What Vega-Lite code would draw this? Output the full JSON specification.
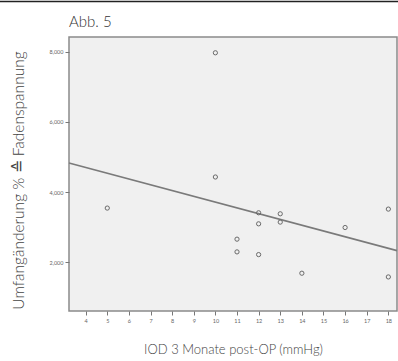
{
  "$schema": "https://vega.github.io/schema/vega-lite/v6.json",
  "autosize": "none",
  "width": 328,
  "height": 274,
  "padding": {"left": 69, "top": 37, "right": 1, "bottom": 50},
  "background": "white",
  "config": {
    "font": "Lato",
    "view": {"fill": "#f0f0f0", "stroke": "#8a8a8a", "strokeWidth": 1.5},
    "axis": {"grid": false, "domain": false, "tickColor": "#777", "tickSize": 4, "labelColor": "#666", "labelFontSize": 5.5, "labelOverlap": false, "titleColor": "#444", "titleFontWeight": 300, "titleFontSize": 13.5}
  },
  "title": {"text": "Abb. 5", "anchor": "start", "frame": "group", "fontSize": 15, "fontWeight": 300, "color": "#333", "offset": -41, "baseline": "alphabetic", "font": "Lato"},
  "datasets": {
    "pts": [
      {"iod": 5, "umf": 3543},
      {"iod": 10, "umf": 7970},
      {"iod": 10, "umf": 4429},
      {"iod": 11, "umf": 2657},
      {"iod": 11, "umf": 2294},
      {"iod": 12, "umf": 3409},
      {"iod": 12, "umf": 3094},
      {"iod": 12, "umf": 2217},
      {"iod": 13, "umf": 3380},
      {"iod": 13, "umf": 3143},
      {"iod": 14, "umf": 1686},
      {"iod": 16, "umf": 2989},
      {"iod": 18, "umf": 3514},
      {"iod": 18, "umf": 1580}
    ],
    "fit": [
      {"iod": 3.23, "umf": 4829},
      {"iod": 18.4, "umf": 2330}
    ],
    "sep": [
      {"iod": 0.03, "iod2": 18.46, "umf": 9434}
    ]
  },
  "encoding": {
    "x": {"field": "iod", "type": "quantitative", "scale": {"domain": [3.23, 18.4], "nice": false, "zero": false},
          "axis": {"values": [4,5,6,7,8,9,10,11,12,13,14,15,16,17,18], "labelOverlap": false, "labelFlush": false, "labelBound": false, "title": "IOD 3 Monate post-OP (mmHg)", "titleFontSize": 13, "titlePadding": 20, "labelPadding": 3}},
    "y": {"field": "umf", "type": "quantitative", "scale": {"domain": [609, 8420], "nice": false, "zero": false},
          "axis": {"values": [2000, 4000, 6000, 8000], "labelOverlap": false, "format": ",.0f", "title": "Umfangänderung % ≙ Fadenspannung", "titleFontSize": 15.5, "titlePadding": 22, "titleY": 143, "labelPadding": 2}}
  },
  "layer": [
    {
      "data": {"name": "fit"},
      "mark": {"type": "line", "color": "#7a7a7a", "strokeWidth": 1.6}
    },
    {
      "data": {"name": "pts"},
      "mark": {"type": "point", "shape": "circle", "size": 18, "stroke": "#6a6a6a", "strokeWidth": 1, "filled": false, "opacity": 1}
    },
    {
      "data": {"name": "sep"},
      "mark": {"type": "rule", "color": "#222", "strokeWidth": 1.5, "clip": false},
      "encoding": {
        "x2": {"field": "iod2"}
      }
    }
  ]
}
